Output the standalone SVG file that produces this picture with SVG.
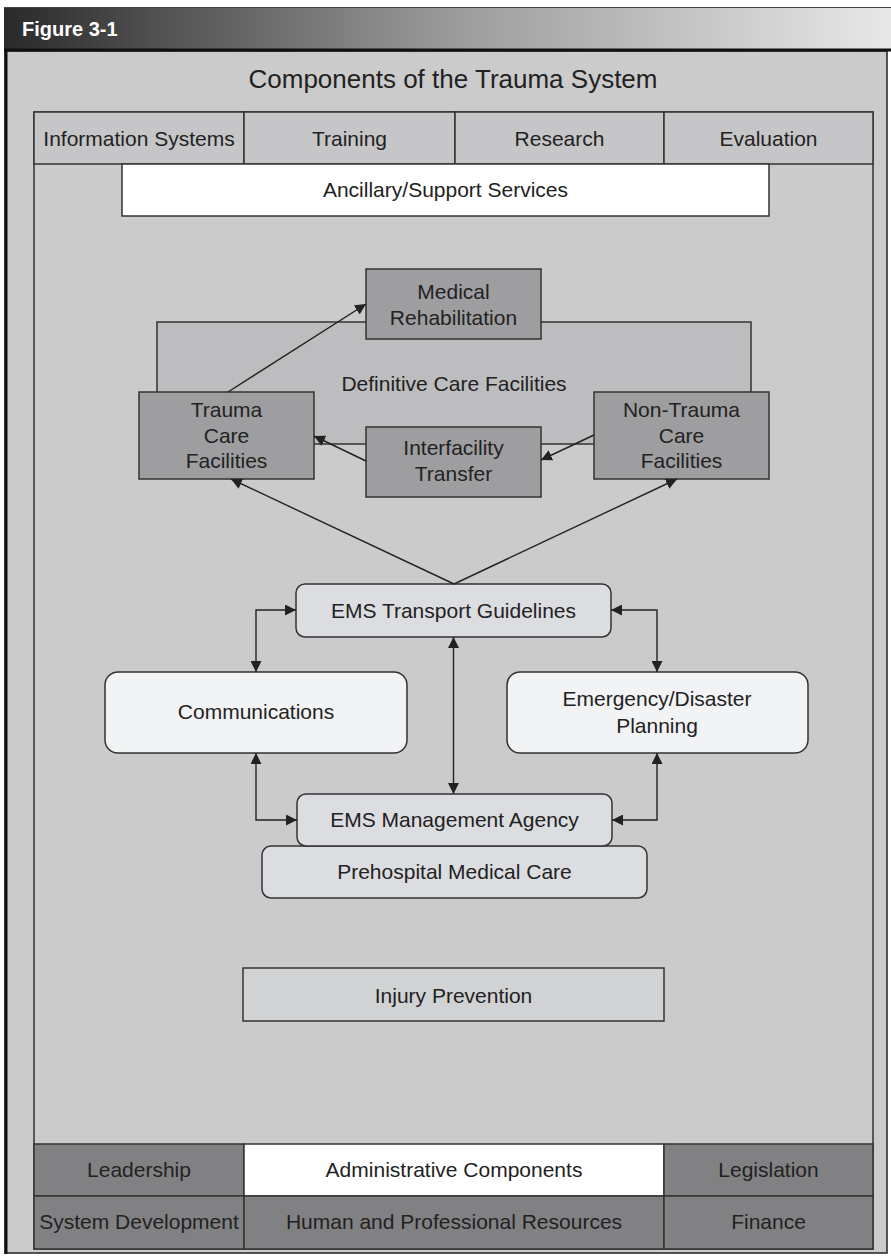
<svg xmlns="http://www.w3.org/2000/svg" width="891" height="1257" viewBox="0 0 891 1257">
<defs>
<linearGradient id="hdr" x1="0" y1="0" x2="1" y2="0">
<stop offset="0" stop-color="#2a2a2a"/>
<stop offset="0.5" stop-color="#9a9a9a"/>
<stop offset="1" stop-color="#e8e8e8"/>
</linearGradient>
<marker id="ah" viewBox="0 0 10 10" refX="10" refY="5" markerWidth="11" markerHeight="11" markerUnits="userSpaceOnUse" orient="auto-start-reverse">
<path d="M0,0 L10,5 L0,10 z" fill="#222"/>
</marker>
</defs>
<style>
text{font-family:"Liberation Sans",Arial,Helvetica,sans-serif;font-size:21px;fill:#222;text-anchor:middle}
.b{stroke:#333;stroke-width:1.5}
.tab{fill:#c6c6c8}
.white{fill:#ffffff}
.dark{fill:#9e9ea0}
.def{fill:#bdbdbf}
.light{fill:#dcdde0}
.pale{fill:#f2f3f5}
.inj{fill:#d1d2d4}
.adm{fill:#818184}
.con{fill:none;stroke:#222;stroke-width:1.4}
</style>
<rect x="0" y="0" width="891" height="1257" fill="#ffffff"/>
<g id="frame">
<rect x="5" y="51" width="882" height="1202" fill="#cbcbcb" stroke="#222" stroke-width="1.5"/>
<line x1="6" y1="51" x2="6" y2="1254" stroke="#111" stroke-width="3"/>
<rect x="4" y="7" width="887" height="44" fill="url(#hdr)"/>
<line x1="4" y1="7.5" x2="891" y2="7.5" stroke="#444" stroke-width="1"/>
<line x1="4" y1="50" x2="891" y2="50" stroke="#111" stroke-width="3"/>
<text x="22" y="36" style="fill:#fff;font-weight:bold;font-size:20px;text-anchor:start">Figure 3-1</text>
<text x="453" y="88" style="font-size:26px">Components of the Trauma System</text>
<rect x="34" y="112" width="839" height="1137" fill="none" class="b"/>
</g>
<g id="information-systems"><rect x="34" y="112" width="210" height="52" class="tab b"/><text x="139" y="146">Information Systems</text></g>
<g id="training"><rect x="244" y="112" width="211" height="52" class="tab b"/><text x="349.5" y="146">Training</text></g>
<g id="research"><rect x="455" y="112" width="209" height="52" class="tab b"/><text x="559.5" y="146">Research</text></g>
<g id="evaluation"><rect x="664" y="112" width="209" height="52" class="tab b"/><text x="768.5" y="146">Evaluation</text></g>
<g id="ancillary"><rect x="122" y="164" width="647" height="52" class="white b"/><text x="445.5" y="197">Ancillary/Support Services</text></g>
<g id="definitive-care"><rect x="157" y="322" width="594" height="122" class="def b"/><text x="454" y="391">Definitive Care Facilities</text></g>
<g id="medical-rehabilitation"><rect x="366" y="269" width="175" height="70" class="dark b"/><text x="453.5" y="299">Medical</text><text x="453.5" y="325">Rehabilitation</text></g>
<g id="trauma-care"><rect x="139" y="392" width="175" height="87" class="dark b"/><text x="226.5" y="417">Trauma</text><text x="226.5" y="443">Care</text><text x="226.5" y="468">Facilities</text></g>
<g id="non-trauma-care"><rect x="594" y="392" width="175" height="87" class="dark b"/><text x="681.5" y="417">Non-Trauma</text><text x="681.5" y="443">Care</text><text x="681.5" y="468">Facilities</text></g>
<g id="interfacility-transfer"><rect x="366" y="427" width="175" height="70" class="dark b"/><text x="453.5" y="455">Interfacility</text><text x="453.5" y="481">Transfer</text></g>
<g id="ems-transport"><rect x="296" y="584" width="315" height="53" rx="9" class="light b"/><text x="453.5" y="618">EMS Transport Guidelines</text></g>
<g id="communications"><rect x="105" y="672" width="302" height="81" rx="13" class="pale b"/><text x="256" y="719">Communications</text></g>
<g id="emergency-planning"><rect x="507" y="672" width="301" height="81" rx="13" class="pale b"/><text x="657" y="706">Emergency/Disaster</text><text x="657" y="733">Planning</text></g>
<g id="prehospital-care"><rect x="262" y="846" width="385" height="52" rx="9" class="light b"/><text x="454.5" y="879">Prehospital Medical Care</text></g>
<g id="ems-management"><rect x="297" y="794" width="315" height="52" rx="9" class="light b"/><text x="454.5" y="827">EMS Management Agency</text></g>
<g id="injury-prevention"><rect x="243" y="968" width="421" height="53" class="inj b"/><text x="453.5" y="1003">Injury Prevention</text></g>
<g id="leadership"><rect x="34" y="1144" width="210" height="52" class="adm b"/><text x="139" y="1177">Leadership</text></g>
<g id="administrative-components"><rect x="244" y="1144" width="420" height="52" class="white b"/><text x="454" y="1177">Administrative Components</text></g>
<g id="legislation"><rect x="664" y="1144" width="209" height="52" class="adm b"/><text x="768.5" y="1177">Legislation</text></g>
<g id="system-development"><rect x="34" y="1196" width="210" height="53" class="adm b"/><text x="139" y="1229">System Development</text></g>
<g id="human-resources"><rect x="244" y="1196" width="420" height="53" class="adm b"/><text x="454" y="1229">Human and Professional Resources</text></g>
<g id="finance"><rect x="664" y="1196" width="209" height="53" class="adm b"/><text x="768.5" y="1229">Finance</text></g>
<g id="connectors">
<line x1="228" y1="392" x2="366" y2="304" class="con" marker-end="url(#ah)"/>
<line x1="366" y1="461" x2="314" y2="436" class="con" marker-end="url(#ah)"/>
<line x1="594" y1="435" x2="541" y2="460" class="con" marker-end="url(#ah)"/>
<line x1="454" y1="584" x2="231" y2="479" class="con" marker-end="url(#ah)"/>
<line x1="454" y1="584" x2="677" y2="479" class="con" marker-end="url(#ah)"/>
<path d="M256,672 V610 H296" class="con" marker-start="url(#ah)" marker-end="url(#ah)"/>
<path d="M611,610 H657 V672" class="con" marker-start="url(#ah)" marker-end="url(#ah)"/>
<line x1="453.5" y1="637" x2="453.5" y2="794" class="con" marker-start="url(#ah)" marker-end="url(#ah)"/>
<path d="M256,753 V820 H297" class="con" marker-start="url(#ah)" marker-end="url(#ah)"/>
<path d="M657,753 V820 H612" class="con" marker-start="url(#ah)" marker-end="url(#ah)"/>
</g>
</svg>
